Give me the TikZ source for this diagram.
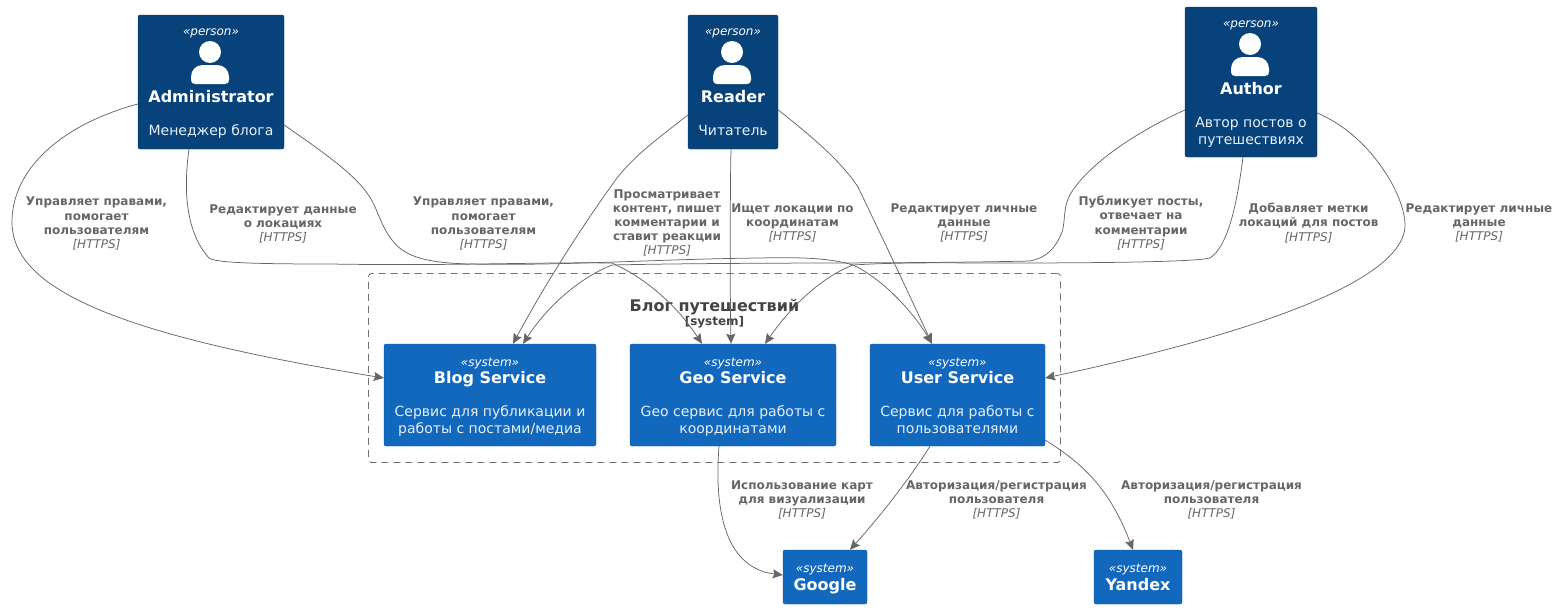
\documentclass[tikz,border=0pt]{standalone}
\usepackage{fontspec}
\setmainfont{DejaVu Sans}
\usetikzlibrary{arrows.meta,positioning}
\definecolor{personblue}{HTML}{08427B}
\definecolor{systemblue}{HTML}{1168BD}
\definecolor{relgray}{HTML}{666666}
\definecolor{framegray}{HTML}{444444}
\tikzset{
  person/.style={fill=personblue,draw=personblue!85!black,line width=.4pt,rounded corners=2pt,inner sep=0pt},
  system/.style={fill=systemblue,draw=systemblue!85!black,line width=.4pt,rounded corners=2pt,inner sep=0pt},
  tag/.style={anchor=base,inner sep=0pt,text=white,font=\fontsize{12}{14}\selectfont\itshape},
  title/.style={anchor=base,inner sep=0pt,text=white,font=\fontsize{16}{19}\selectfont\bfseries},
  desc/.style={anchor=base,inner sep=0pt,text=white!90!systemblue,font=\fontsize{14}{16}\selectfont},
  rel/.style={draw=relgray,line width=.75pt,-{Stealth[length=10pt,width=9pt,inset=1.5pt]}},
  rellabel/.style={inner sep=0pt,align=center,text=relgray,font=\fontsize{12}{14.2}\selectfont\bfseries},
  frame/.style={draw=black!85,dash pattern=on 7pt off 5pt,line width=.5pt,rounded corners=3pt,inner sep=0pt},
}
\newcommand{\https}{{\mdseries\itshape [HTTPS]}}
\newcommand{\personicon}[2]{%
  \fill[white] (#1,#2) circle (11);
  \fill[white] (#1-19,#2+28) .. controls (#1-19,#2+30.5) and (#1-17.5,#2+32) .. (#1-15,#2+32) -- (#1+15,#2+32) .. controls (#1+17.5,#2+32) and (#1+19,#2+30.5) .. (#1+19,#2+28) -- (#1+19,#2+25) .. controls (#1+19,#2+18) and (#1+14,#2+13) .. (#1+7,#2+13) -- (#1-7,#2+13) .. controls (#1-14,#2+13) and (#1-19,#2+18) .. (#1-19,#2+25) -- cycle;
}
\begin{document}
\begin{tikzpicture}[x=1pt,y=-1pt]
  \useasboundingbox (0,0) rectangle (1559,608);

  % system boundary
  \node[frame,minimum width=692pt,minimum height=189pt] (blogsystem) at (714.5,368) {};
  \node[anchor=base,inner sep=0pt,text=framegray,font=\fontsize{16}{19}\selectfont\bfseries] (blogsystemname) at (714.5,311) {Блог путешествий};
  \node[anchor=base,inner sep=0pt,text=framegray,font=\fontsize{12}{14}\selectfont\bfseries] (blogsystemtag) at (714.5,325) {[system]};

  % persons
  \node[person,minimum width=146pt,minimum height=134pt] (admin) at (211,82) {};
  \node[tag] (admintag) at (211,35) {«person»};
  \personicon{210}{52}
  \node[title] (adminname) at (211,102) {Administrator};
  \node[desc] (admindesc) at (211,135) {Менеджер блога};

  \node[person,minimum width=90pt,minimum height=134pt] (reader) at (733,82) {};
  \node[tag] (readertag) at (733,35) {«person»};
  \personicon{732}{52}
  \node[title] (readername) at (733,102) {Reader};
  \node[desc] (readerdesc) at (733,135) {Читатель};

  \node[person,minimum width=132pt,minimum height=150pt] (author) at (1251,82) {};
  \node[tag] (authortag) at (1251,27) {«person»};
  \personicon{1250}{44}
  \node[title] (authorname) at (1251,94) {Author};
  \node[desc] (authordesc1) at (1251,127) {Автор постов о};
  \node[desc] (authordesc2) at (1251,144) {путешествиях};

  % services
  \node[system,minimum width=212pt,minimum height=102pt] (blog) at (490,395) {};
  \node[tag] (blogtag) at (490,366) {«system»};
  \node[title] (blogname) at (490,383) {Blog Service};
  \node[desc] (blogdesc1) at (490,416) {Сервис для публикации и};
  \node[desc] (blogdesc2) at (490,433) {работы с постами/медиа};

  \node[system,minimum width=206pt,minimum height=102pt] (geo) at (733,395) {};
  \node[tag] (geotag) at (733,366) {«system»};
  \node[title] (geoname) at (733,383) {Geo Service};
  \node[desc] (geodesc1) at (733,416) {Geo сервис для работы с};
  \node[desc] (geodesc2) at (733,433) {координатами};

  \node[system,minimum width=175pt,minimum height=102pt] (user) at (957.5,395) {};
  \node[tag] (usertag) at (957.5,366) {«system»};
  \node[title] (username) at (957.5,383) {User Service};
  \node[desc] (userdesc1) at (957.5,416) {Сервис для работы с};
  \node[desc] (userdesc2) at (957.5,433) {пользователями};

  \node[system,minimum width=84pt,minimum height=54pt] (google) at (825,577) {};
  \node[tag] (googletag) at (825,572) {«system»};
  \node[title] (googlename) at (825,590) {Google};

  \node[system,minimum width=88pt,minimum height=54pt] (yandex) at (1138,577) {};
  \node[tag] (yandextag) at (1138,572) {«system»};
  \node[title] (yandexname) at (1138,590) {Yandex};

  % connectors
  \draw[rel] ([yshift=-22pt]admin.west) .. controls (60,125) and (12,170) .. (12,222) .. controls (12,290) and (120,335) .. ([yshift=17pt]blog.west);
  \draw[rel] ([xshift=-22pt]admin.south) .. controls (184,185) and (184,230) .. (209,258) .. controls (215,263) and (260,264) .. (330,264) .. controls (450,266) and (540,262) .. (612,263) .. controls (650,280) and (680,310) .. ([xshift=-31pt]geo.north);
  \draw[rel] ([yshift=-43pt]admin.east) .. controls (320,150) and (352,172) .. (367,193) .. controls (378,208) and (380,225) .. (392,240) .. controls (405,258) and (430,263) .. (470,264) .. controls (560,266) and (660,259) .. (760,258) .. controls (800,257) and (830,258) .. (853,265) .. controls (885,280) and (915,315) .. ([xshift=-25.5pt]user.north);
  \draw[rel] ([yshift=-33pt]reader.west) .. controls (660,137) and (636,154) .. (617,178) .. controls (590,215) and (550,275) .. ([xshift=23pt]blog.north);
  \draw[rel] ([xshift=-2pt]reader.south) .. controls (730,190) and (730,300) .. ([xshift=-2pt]geo.north);
  \draw[rel] ([yshift=-28pt]reader.east) .. controls (810,135) and (840,160) .. (858,187) .. controls (883,239) and (908,292) .. ([xshift=-25.5pt]user.north);
  \draw[rel] ([yshift=-28pt]author.west) .. controls (1130,135) and (1090,165) .. (1073,190) .. controls (1062,205) and (1066,220) .. (1062,232) .. controls (1055,250) and (1045,258) .. (1030,261) .. controls (900,264) and (750,262) .. (612,265) .. controls (575,280) and (545,310) .. ([xshift=33pt]blog.north);
  \draw[rel] ([xshift=-8pt]author.south) .. controls (1238,195) and (1230,245) .. (1210,258) .. controls (1195,262) and (1100,263) .. (1000,263) .. controls (950,263) and (900,262) .. (853,265) .. controls (815,280) and (785,315) .. ([xshift=32pt]geo.north);
  \draw[rel] ([yshift=-31pt]author.east) .. controls (1370,135) and (1405,195) .. (1405,225) .. controls (1405,290) and (1200,345) .. ([yshift=17pt]user.east);
  \draw[rel] ([xshift=-14pt]geo.south) .. controls (714,510) and (725,568) .. ([yshift=2pt]google.west);
  \draw[rel] ([xshift=-27.5pt]user.south) .. controls (915,470) and (890,505) .. ([xshift=25pt]google.north);
  \draw[rel] ([yshift=-45pt]user.east) .. controls (1085,465) and (1110,490) .. ([xshift=-5pt]yandex.north);

  % labels
  \node[rellabel] (adminbloglabel) at (96.5,223.7) {Управляет правами,\\помогает\\пользователям\\\https};
  \node[rellabel] (admingeolabel) at (283,223.7) {Редактирует данные\\о локациях\\\https};
  \node[rellabel] (adminuserlabel) at (483.5,223.7) {Управляет правами,\\помогает\\пользователям\\\https};
  \node[rellabel] (readerbloglabel) at (667,223) {Просматривает\\контент, пишет\\комментарии и\\ставит реакции\\\https};
  \node[rellabel] (readergeolabel) at (792.5,223) {Ищет локации по\\координатам\\\https};
  \node[rellabel] (readeruserlabel) at (964,223) {Редактирует личные\\данные\\\https};
  \node[rellabel] (authorbloglabel) at (1141,223) {Публикует посты,\\отвечает на\\комментарии\\\https};
  \node[rellabel] (authorgeolabel) at (1308.5,223) {Добавляет метки\\локаций для постов\\\https};
  \node[rellabel] (authoruserlabel) at (1479,223) {Редактирует личные\\данные\\\https};
  \node[rellabel] (geogooglelabel) at (802,500) {Использование карт\\для визуализации\\\https};
  \node[rellabel] (usergooglelabel) at (996.5,500) {Авторизация/регистрация\\пользователя\\\https};
  \node[rellabel] (useryandexlabel) at (1211.5,500) {Авторизация/регистрация\\пользователя\\\https};
\end{tikzpicture}
\end{document}
